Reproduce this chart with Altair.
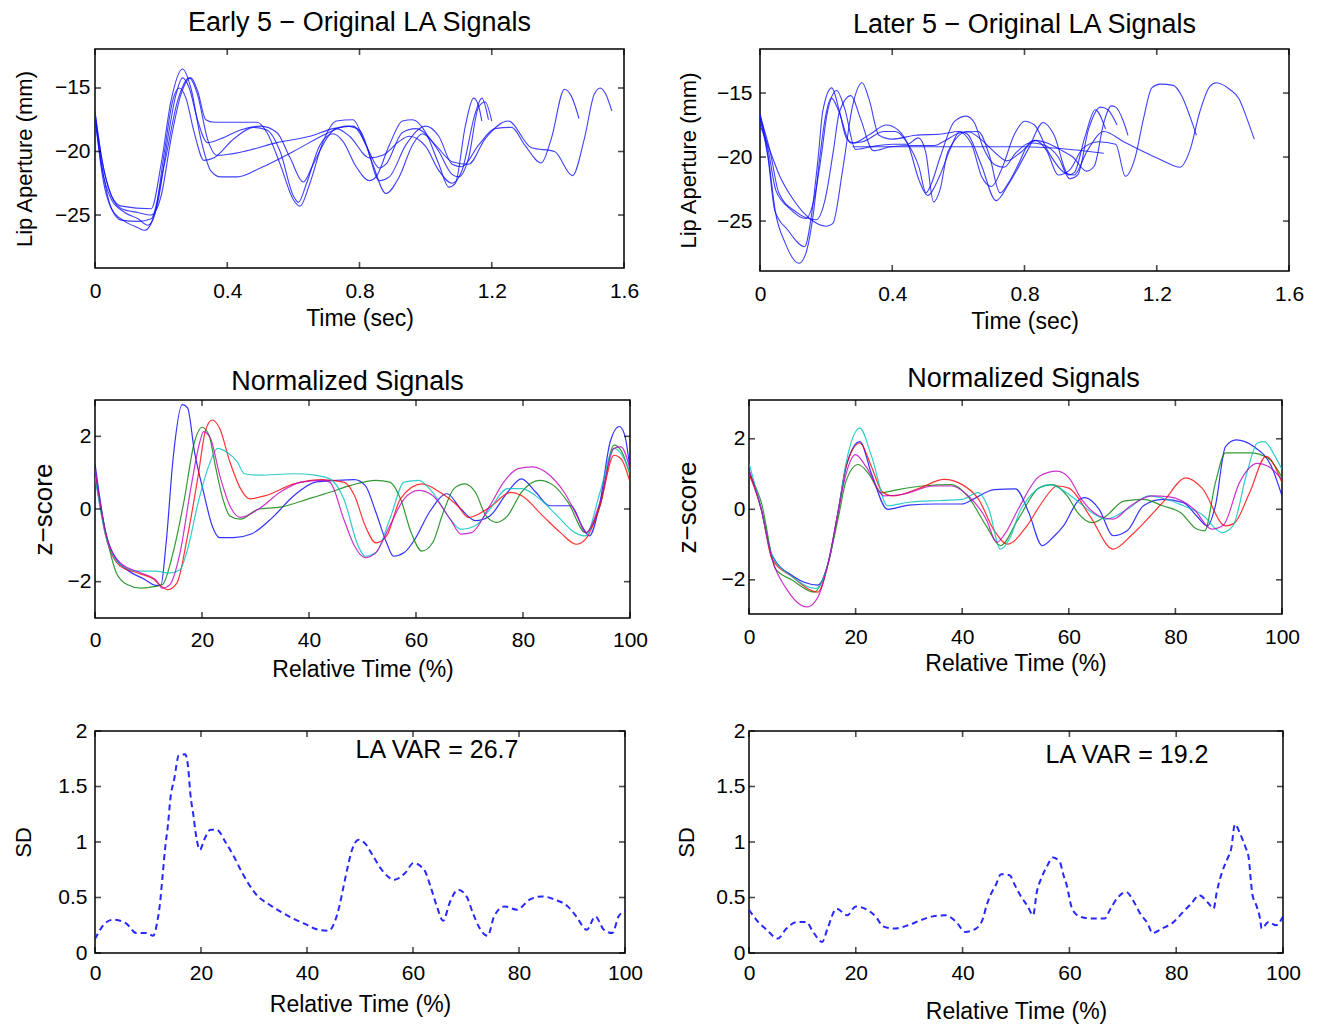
import altair as alt
import pandas as pd

FONT = "Liberation Sans"

# ---------------- Early 5 - original LA signals (time s, lip aperture mm) ----------------
e1_t = [0, 0.02, 0.05, 0.08, 0.17, 0.20, 0.23, 0.265, 0.29, 0.32, 0.35, 0.38, 0.43, 0.50, 0.60, 0.70, 0.76, 0.80, 0.84, 0.88, 0.92, 0.96, 0.99, 1.03, 1.08, 1.13, 1.18, 1.25, 1.32, 1.39, 1.444, 1.48, 1.51, 1.528, 1.545, 1.563]
e1_y = [-17.0, -20.5, -23.5, -24.3, -24.5, -21.0, -16.0, -13.5, -15.0, -19.0, -21.5, -22.0, -22.0, -21.3, -20.0, -18.6, -18.0, -18.3, -21.0, -23.3, -22.0, -19.5, -18.6, -19.5, -20.8, -21.0, -19.0, -17.6, -19.7, -20.0, -21.9, -19.0, -15.5, -15.0, -15.5, -16.8]
e2_t = [0, 0.02, 0.05, 0.08, 0.13, 0.17, 0.21, 0.25, 0.285, 0.31, 0.34, 0.37, 0.45, 0.55, 0.65, 0.72, 0.78, 0.82, 0.86, 0.89, 0.94, 1.00, 1.04, 1.08, 1.11, 1.16, 1.21, 1.26, 1.30, 1.35, 1.38, 1.42, 1.44, 1.464]
e2_y = [-17.2, -21.0, -24.5, -25.4, -25.5, -25.3, -21.0, -16.0, -14.2, -15.5, -19.0, -20.3, -20.0, -19.3, -18.8, -18.2, -18.0, -19.5, -22.3, -22.0, -19.5, -18.0, -18.8, -21.0, -21.2, -19.5, -18.2, -18.1, -19.5, -20.9, -19.0, -15.1, -15.6, -17.4]
e3_t = [0, 0.02, 0.05, 0.09, 0.13, 0.16, 0.19, 0.22, 0.245, 0.265, 0.285, 0.31, 0.34, 0.38, 0.44, 0.50, 0.55, 0.59, 0.63, 0.66, 0.70, 0.73, 0.77, 0.83, 0.87, 0.92, 0.95, 1.00, 1.04, 1.08, 1.11, 1.15, 1.17, 1.19]
e3_y = [-17.4, -21.2, -23.8, -24.8, -25.3, -25.8, -24.0, -19.0, -15.5, -14.2, -15.0, -17.5, -19.3, -19.0, -18.3, -18.0, -18.5, -20.5, -22.4, -21.0, -19.0, -18.2, -18.8, -20.5, -20.3, -19.2, -18.8, -19.6, -21.5, -22.5, -21.5, -17.0, -15.8, -17.5]
e4_t = [0, 0.02, 0.05, 0.09, 0.13, 0.15, 0.18, 0.21, 0.235, 0.255, 0.275, 0.30, 0.33, 0.36, 0.42, 0.48, 0.52, 0.56, 0.60, 0.615, 0.64, 0.68, 0.72, 0.75, 0.79, 0.83, 0.85, 0.89, 0.93, 0.96, 1.00, 1.04, 1.07, 1.09, 1.12, 1.145, 1.16, 1.17]
e4_y = [-17.0, -21.5, -24.5, -25.5, -26.0, -26.2, -25.0, -20.0, -16.0, -15.0, -15.8, -18.5, -20.7, -20.5, -19.0, -18.1, -18.3, -20.0, -23.5, -24.0, -22.5, -19.5, -18.6, -19.2, -21.2, -22.3, -22.0, -19.5, -17.6, -17.5, -18.5, -21.0, -22.8, -22.5, -18.0, -15.8, -16.4, -17.6]
e5_t = [0, 0.02, 0.05, 0.08, 0.13, 0.17, 0.20, 0.23, 0.26, 0.29, 0.31, 0.335, 0.36, 0.49, 0.52, 0.56, 0.60, 0.62, 0.65, 0.69, 0.73, 0.78, 0.82, 0.86, 0.88, 0.93, 0.97, 1.00, 1.04, 1.08, 1.10, 1.13, 1.16, 1.18, 1.20]
e5_y = [-16.8, -20.5, -23.5, -24.5, -24.8, -25.0, -23.5, -19.0, -15.5, -14.2, -15.2, -17.5, -17.7, -17.7, -18.5, -21.0, -23.8, -24.3, -22.5, -19.2, -17.6, -17.5, -19.5, -21.3, -21.0, -18.5, -18.2, -18.6, -20.0, -21.8, -22.0, -20.5, -16.5, -16.1, -17.6]

# ---------------- Later 5 - original LA signals ----------------
l1_t = [0, 0.03, 0.06, 0.10, 0.15, 0.20, 0.22, 0.25, 0.28, 0.309, 0.33, 0.36, 0.40, 0.47, 0.55, 0.60, 0.64, 0.67, 0.70, 0.73, 0.77, 0.80, 0.83, 0.87, 0.92, 0.95, 0.99, 1.04, 1.10, 1.17, 1.22, 1.27, 1.30, 1.33, 1.36, 1.38, 1.42, 1.45, 1.47, 1.495]
l1_y = [-17.5, -19.5, -21.5, -23.3, -24.8, -25.4, -25.2, -21.0, -16.0, -14.2, -15.5, -18.3, -18.6, -18.3, -18.2, -18.0, -19.0, -21.5, -22.3, -21.0, -18.2, -17.2, -17.5, -19.5, -21.2, -21.4, -19.5, -18.0, -18.8, -19.7, -20.3, -20.8, -19.5, -16.5, -14.5, -14.2, -14.7, -15.5, -16.8, -18.6]
l2_t = [0, 0.03, 0.057, 0.11, 0.17, 0.197, 0.222, 0.24, 0.275, 0.304, 0.343, 0.396, 0.462, 0.528, 0.554, 0.607, 0.66, 0.693, 0.726, 0.752, 0.779, 0.818, 0.832, 0.867, 0.902, 0.937, 0.977, 1.024, 1.076, 1.105, 1.135, 1.16, 1.185, 1.21, 1.25, 1.275, 1.30, 1.32]
l2_y = [-16.8, -19.5, -22.8, -24.3, -24.9, -23.3, -19.5, -16.5, -15.2, -17.0, -19.5, -19.2, -19.1, -19.1, -18.8, -18.1, -18.0, -19.8, -22.8, -22.0, -20.7, -18.8, -18.7, -19.5, -21.4, -21.0, -19.3, -18.8, -19.0, -21.5, -20.0, -17.0, -14.6, -14.3, -14.4, -15.2, -16.8, -18.3]
l3_t = [0, 0.024, 0.045, 0.084, 0.135, 0.156, 0.176, 0.19, 0.217, 0.24, 0.261, 0.282, 0.334, 0.382, 0.418, 0.449, 0.481, 0.507, 0.543, 0.575, 0.604, 0.627, 0.669, 0.714, 0.752, 0.811, 0.857, 0.888, 0.934, 0.951, 0.982, 1.014, 1.045]
l3_y = [-17.0, -20.0, -24.2, -25.7, -27.0, -24.5, -20.0, -16.4, -14.6, -16.4, -18.5, -18.9, -18.2, -17.5, -17.9, -19.1, -21.8, -23.0, -21.5, -19.4, -18.0, -18.2, -20.6, -23.4, -22.1, -19.4, -17.3, -18.2, -21.4, -21.2, -18.5, -16.3, -17.8]
l4_t = [0, 0.025, 0.046, 0.076, 0.118, 0.139, 0.161, 0.181, 0.197, 0.216, 0.238, 0.274, 0.31, 0.375, 0.41, 0.443, 0.481, 0.502, 0.518, 0.545, 0.589, 0.624, 0.648, 0.674, 0.71, 0.738, 0.773, 0.816, 0.852, 0.902, 0.937, 0.961, 0.994, 1.03, 1.052, 1.08]
l4_y = [-16.7, -20.0, -24.2, -26.7, -28.3, -27.5, -24.5, -20.0, -17.0, -15.4, -16.4, -18.9, -18.8, -18.0, -18.0, -18.8, -20.8, -22.8, -22.1, -20.0, -17.2, -16.8, -17.3, -19.2, -20.6, -20.8, -19.7, -18.9, -19.0, -20.0, -21.7, -21.4, -17.8, -16.1, -16.3, -17.5]
l5_t = [0, 0.026, 0.048, 0.089, 0.139, 0.166, 0.187, 0.203, 0.232, 0.256, 0.289, 0.334, 0.401, 0.445, 0.479, 0.501, 0.525, 0.545, 0.568, 0.628, 0.672, 0.717, 0.746, 0.79, 0.835, 0.868, 0.907, 0.946, 0.988, 1.011, 1.04, 1.062, 1.076, 1.099, 1.113]
l5_y = [-16.6, -19.6, -22.6, -24.0, -24.8, -23.0, -19.6, -16.6, -14.8, -16.2, -19.4, -19.2, -19.0, -19.0, -18.5, -19.6, -23.5, -22.5, -19.6, -18.0, -18.7, -19.8, -20.3, -19.6, -18.7, -18.9, -19.4, -20.0, -21.1, -20.7, -17.3, -16.0, -16.1, -17.2, -18.3]
l6_t = [0.28, 0.80, 1.04]
l6_y = [-19.2, -19.2, -19.7]

# ---------------- Normalized signals, early (relative time %, z-score) ----------------
ne_b_x = [0, 2, 4, 6, 9.3, 11.3, 12.3, 13.3, 14.6, 16.3, 17.3, 18.6, 20.3, 21.9, 23.3, 25.9, 29.2, 33.2, 37.2, 41.2, 45.2, 48.5, 50.5, 52.5, 54.5, 55.8, 57.8, 59.8, 62.5, 65.8, 68.4, 71.1, 73.8, 77.1, 79.7, 82.4, 85, 89, 91, 92.4, 94.4, 96.3, 98, 99, 100]
ne_b_y = [1.25, -0.65, -1.39, -1.67, -1.94, -2.1, -2.1, -0.93, 1.39, 2.87, 2.78, 1.57, 0.46, -0.46, -0.79, -0.79, -0.69, -0.23, 0.37, 0.74, 0.79, 0.81, 0.65, -0.09, -0.93, -1.3, -1.2, -0.83, -0.09, 0.42, 0.0, -0.32, -0.19, 0.46, 0.83, 0.46, 0.09, 0.09, -0.46, -0.74, 0.19, 1.85, 2.27, 2.04, 1.1]
ne_g_x = [0, 2, 4, 6, 8.6, 11.3, 12.6, 14.6, 16.6, 18.6, 20, 21.3, 22.6, 23.9, 25.2, 27.2, 30.6, 34.6, 39.9, 43.9, 47.8, 52.5, 55.1, 57.1, 59.1, 61.1, 63.1, 65.1, 67.1, 69.1, 71.1, 73.1, 75.1, 77.1, 79.7, 83.1, 85.7, 88.4, 91.7, 94.4, 97, 98.3, 100]
ne_g_y = [0.93, -0.65, -1.76, -2.08, -2.18, -2.13, -2.08, -1.2, 0.19, 1.85, 2.25, 2.04, 1.11, 0.28, -0.19, -0.28, 0.0, 0.05, 0.28, 0.46, 0.65, 0.79, 0.74, 0.28, -0.65, -1.16, -0.93, -0.09, 0.56, 0.69, 0.46, -0.19, -0.37, -0.19, 0.46, 0.79, 0.65, 0.19, -0.65, 0.09, 1.76, 1.62, 0.93]
ne_r_x = [0, 2, 4.7, 8, 10.6, 13.6, 15.3, 17.3, 19.3, 20.6, 21.9, 23.3, 25.2, 27.2, 28.9, 31.9, 37.2, 42.5, 46.5, 48.5, 50.5, 52.5, 54.5, 57.1, 61.1, 64.5, 67.8, 69.8, 73.8, 77.7, 79.7, 83.7, 87, 90, 91.7, 94.4, 97, 98.3, 100]
ne_r_y = [1.0, -0.74, -1.57, -1.76, -1.9, -2.22, -2.04, -0.74, 0.93, 2.13, 2.45, 2.22, 1.3, 0.56, 0.28, 0.37, 0.69, 0.81, 0.74, 0.37, -0.46, -0.93, -0.74, 0.28, 0.69, 0.46, 0.09, -0.23, 0.05, 0.46, 0.37, -0.19, -0.65, -0.97, -0.83, 0.09, 1.48, 1.39, 0.74]
ne_c_x = [0, 2, 4.7, 8, 11.3, 14, 15.9, 17.3, 19.3, 21.3, 22.9, 24.6, 26.6, 27.9, 30.6, 37.2, 41.2, 43.9, 46.5, 49.2, 50.5, 52.5, 55.1, 57.8, 60.5, 63.1, 66.4, 68.4, 71.1, 73.8, 77.1, 79.7, 83.1, 86.4, 89.7, 91.7, 94.4, 97, 98.3, 100]
ne_c_y = [0.88, -0.74, -1.53, -1.71, -1.71, -1.76, -1.67, -1.11, 0.19, 1.2, 1.67, 1.57, 1.3, 0.97, 0.93, 0.97, 0.93, 0.83, 0.28, -1.02, -1.3, -1.2, -0.28, 0.74, 0.79, 0.46, -0.28, -0.56, -0.46, 0.0, 0.56, 0.56, 0.28, -0.19, -0.65, -0.74, 0.46, 1.67, 1.53, 1.02]
ne_m_x = [0, 2, 4.7, 8.6, 11.3, 12.6, 14, 15.9, 17.9, 19.6, 20.3, 21.6, 23.3, 25.2, 27.2, 30.6, 34.6, 38.5, 42.5, 43.9, 46.5, 48.5, 50.5, 52.5, 55.1, 57.8, 60.5, 63.1, 66.4, 68.4, 70.4, 73.8, 76.4, 79.1, 81.7, 85, 87.7, 90.4, 91.7, 94.4, 97, 98.3, 100]
ne_m_y = [1.1, -0.65, -1.48, -1.76, -1.94, -2.18, -2.08, -1.2, 0.56, 1.85, 2.13, 1.94, 0.93, 0.09, -0.23, 0.0, 0.46, 0.74, 0.79, 0.74, -0.28, -1.02, -1.34, -1.2, -0.46, 0.28, 0.51, 0.37, -0.28, -0.69, -0.65, 0.09, 0.74, 1.11, 1.16, 0.93, 0.46, -0.28, -0.65, 0.19, 1.67, 1.71, 1.1]

# ---------------- Normalized signals, later ----------------
nl_b_x = [0, 2.3, 4.3, 8.3, 12.9, 14.9, 16.8, 18.2, 20.8, 23, 26, 30, 35, 40, 42, 46, 50, 52.5, 55, 57, 59, 62, 63, 65.7, 68.3, 71, 74, 77.6, 81.5, 84, 86, 87.5, 89.4, 91.4, 94.7, 98, 100]
nl_b_y = [1.1, 0, -1.3, -1.9, -2.15, -1.5, 0, 1.2, 1.92, 1.0, 0, 0.12, 0.15, 0.15, 0.28, 0.56, 0.58, -0.1, -1.03, -0.8, -0.47, 0.28, 0.33, 0, -0.75, -0.6, 0.1, 0.28, 0.19, -0.19, -0.47, 0.1, 1.78, 1.97, 1.78, 1.22, 0.38]
nl_g_x = [0, 2.3, 5, 8, 12.2, 14.9, 16.8, 18.2, 20.5, 22.5, 24.8, 28, 32.7, 38, 41, 44.5, 47.2, 50.5, 54.5, 57, 59.7, 61.7, 64.4, 67, 70.3, 74, 77.6, 81, 84, 85.5, 87.5, 89.4, 94, 97.4, 100]
nl_g_y = [1.0, 0.2, -1.7, -2.0, -2.35, -1.5, -0.2, 0.8, 1.27, 1.0, 0.47, 0.56, 0.66, 0.7, 0.38, -0.47, -1.03, -0.28, 0.61, 0.7, 0.38, -0.1, -0.38, -0.19, 0.23, 0.28, 0.1, -0.1, -0.56, -0.61, 0.75, 1.6, 1.6, 1.45, 0.9]
nl_r_x = [0, 2.3, 4.3, 8, 12.9, 14.9, 16.8, 18.2, 20.8, 23, 25, 27, 32, 36.6, 40, 43, 46, 48.5, 52, 55, 57.8, 60, 64, 68.3, 72, 77.6, 82, 85, 89.4, 91, 94, 97, 100]
nl_r_y = [1.0, 0, -1.4, -1.9, -2.35, -1.5, 0, 1.2, 1.88, 1.2, 0.5, 0.38, 0.6, 0.85, 0.7, 0.3, -0.6, -0.99, -0.5, 0.2, 0.66, 0.6, -0.2, -1.13, -0.7, 0.19, 0.89, 0.6, -0.47, -0.4, 0.5, 1.5, 0.75]
nl_c_x = [0, 2.3, 4.3, 8, 12.5, 14.9, 16.8, 18.2, 20.8, 23, 26, 30, 36, 40, 43, 45, 47.2, 49, 51, 56.4, 60.4, 64.4, 67, 71, 75, 78, 81.5, 85, 88.8, 90.8, 93.4, 95.4, 96.7, 98.7, 100]
nl_c_y = [1.3, 0, -1.3, -1.9, -2.25, -1.5, 0, 1.3, 2.3, 1.5, 0.1, 0.2, 0.25, 0.28, 0.47, 0, -1.13, -0.8, 0, 0.7, 0.38, -0.1, -0.28, 0, 0.38, 0.3, 0.1, -0.15, -0.66, -0.47, 1.03, 1.88, 1.92, 1.5, 1.13]
nl_m_x = [0, 2.3, 4.3, 7, 10.9, 12.9, 14.9, 16.8, 18.2, 20, 22, 25.4, 28.7, 34.7, 38, 41, 44.5, 46.5, 48, 50.5, 54.5, 57.8, 60, 62.4, 65.7, 68.3, 71.6, 75.6, 78.9, 83.5, 86.8, 89, 92, 95.4, 97.4, 100]
nl_m_y = [1.1, 0, -1.4, -2.25, -2.77, -2.5, -1.5, 0, 1.0, 1.55, 1.2, 0.38, 0.42, 0.66, 0.66, 0.4, -0.28, -0.94, -0.7, 0, 0.94, 1.08, 0.9, 0.28, -0.19, -0.28, 0.1, 0.38, 0.35, 0, -0.56, -0.45, 0.75, 1.3, 1.22, 0.85]

# ---------------- SD across trials ----------------
sde_x = [0, 1.4, 3.4, 5.8, 7.8, 9.8, 11, 11.7, 12.2, 12.8, 13.2, 13.8, 14.2, 15, 15.8, 17, 17.6, 18, 18.6, 19, 19.8, 20.6, 21.8, 23, 24.6, 26.2, 27.8, 30.2, 33.4, 36.6, 39.7, 42.1, 44.1, 45.3, 46.1, 46.9, 47.7, 48.5, 49.7, 50.9, 52.5, 54.1, 56.5, 58.5, 60.1, 62.1, 63.3, 64.5, 65.7, 66.9, 68.5, 70.1, 71.3, 72.5, 74.1, 75.3, 77.3, 79.6, 82, 84.4, 86.8, 89.2, 90.8, 92.8, 94.4, 96, 97.6, 98.8, 100]
sde_y = [0.125, 0.24, 0.30, 0.27, 0.18, 0.18, 0.155, 0.27, 0.42, 0.72, 0.93, 1.17, 1.38, 1.58, 1.78, 1.79, 1.66, 1.43, 1.23, 1.08, 0.93, 1.02, 1.11, 1.11, 1.0, 0.87, 0.72, 0.54, 0.42, 0.33, 0.26, 0.21, 0.20, 0.29, 0.42, 0.6, 0.78, 0.93, 1.02, 0.99, 0.87, 0.75, 0.66, 0.72, 0.81, 0.75, 0.6, 0.42, 0.29, 0.45, 0.57, 0.51, 0.36, 0.23, 0.155, 0.33, 0.42, 0.39, 0.48, 0.51, 0.48, 0.42, 0.33, 0.21, 0.33, 0.21, 0.18, 0.33, 0.38]
sdl_x = [0, 1.7, 3.3, 5.4, 7, 9, 10.7, 12, 13.7, 14.7, 16.4, 18.4, 20, 22.1, 23.7, 25.1, 27.1, 29.8, 32.4, 34.4, 36.8, 38.8, 40.5, 42.5, 43.8, 44.5, 45.2, 46.2, 47.2, 48.8, 49.8, 50.8, 52.2, 53.2, 53.9, 54.8, 55.9, 56.9, 58.2, 58.9, 59.5, 60.5, 61.9, 63.9, 66.6, 67.6, 68.9, 70.6, 72.2, 73.2, 74.6, 75.6, 77.3, 79.3, 81.3, 82.9, 84.3, 86, 87, 87.6, 88.6, 89.6, 90.3, 91, 92, 93, 93.6, 94, 94.3, 95, 95.7, 96, 97.3, 98.7, 100]
sdl_y = [0.39, 0.28, 0.21, 0.13, 0.22, 0.28, 0.28, 0.19, 0.10, 0.22, 0.40, 0.34, 0.42, 0.39, 0.33, 0.24, 0.22, 0.25, 0.30, 0.33, 0.34, 0.28, 0.19, 0.22, 0.31, 0.43, 0.52, 0.61, 0.71, 0.70, 0.61, 0.52, 0.42, 0.34, 0.55, 0.68, 0.79, 0.86, 0.82, 0.70, 0.61, 0.40, 0.33, 0.31, 0.31, 0.39, 0.49, 0.55, 0.45, 0.36, 0.27, 0.18, 0.22, 0.27, 0.37, 0.45, 0.52, 0.45, 0.40, 0.55, 0.73, 0.85, 0.94, 1.16, 1.07, 0.95, 0.85, 0.64, 0.52, 0.43, 0.31, 0.22, 0.28, 0.25, 0.33]

# tick values
t_ticks = [0, 0.4, 0.8, 1.2, 1.6]
la_ticks = [-25, -20, -15]
pct_ticks = [0, 20, 40, 60, 80, 100]
z_ticks = [-2, 0, 2]
sd_ticks = [0, 0.5, 1, 1.5, 2]

MATLAB = {"b": "#0000ff", "g": "#008000", "r": "#ff0000", "c": "#00bfbf", "m": "#bf00bf"}


def frame(series):
    rows = []
    for name, xs, ys in series:
        for a, b in zip(xs, ys):
            rows.append({"s": name, "x": a, "y": b})
    return pd.DataFrame(rows)


def panel(df, xdom, ydom, W, H, xt, yt, xtitle, ytitle, ytitle_x, ytitle_size, hid_x,
          xlab_pad, xtitle_pad, ylab_pad, mark_kw, colored, title=None, title_offset=0,
          title_dx=0, note=None, note_x=0, note_y=0):
    xs = alt.Scale(domain=xdom, nice=False, zero=False)
    ys = alt.Scale(domain=ydom, nice=False, zero=False)
    xaxis = alt.Axis(values=xt, format="~f", title=xtitle, domain=False, ticks=False, grid=False,
                     labelFlush=False, labelOverlap=False, labelPadding=xlab_pad,
                     titlePadding=xtitle_pad, labelFontSize=21, titleFontSize=23,
                     labelColor="black", titleColor="black", titleFontWeight="normal",
                     labelFont=FONT, titleFont=FONT)
    yaxis = alt.Axis(values=yt, format="~f", title=ytitle, domain=False, ticks=False, grid=False,
                     labelOverlap=False, labelPadding=ylab_pad, labelFontSize=21,
                     titleFontSize=ytitle_size, titleX=ytitle_x, titleAngle=270,
                     titleBaseline="middle", titleAlign="center",
                     labelColor="black", titleColor="black", titleFontWeight="normal",
                     labelFont=FONT, titleFont=FONT)

    def X():
        return alt.X("x:Q", scale=xs, axis=xaxis)

    def Y():
        return alt.Y("y:Q", scale=ys, axis=yaxis)

    if colored:
        col = alt.Color("s:N", scale=alt.Scale(domain=list(MATLAB.keys()),
                                               range=list(MATLAB.values())), legend=None)
    else:
        col = alt.value("#1010ff")
    lines = alt.Chart(df).mark_line(interpolate="monotone", clip=True, **mark_kw).encode(
        x=X(), y=Y(), detail="s:N", color=col)

    xtdf = pd.DataFrame({"x": xt})
    ytdf = pd.DataFrame({"y": yt})
    tk = dict(size=6, thickness=1.6, color="black")
    xb = alt.Chart(xtdf).mark_tick(orient="vertical", **tk).encode(x=X(), y=alt.value(H - 3))
    xtp = alt.Chart(xtdf).mark_tick(orient="vertical", **tk).encode(x=X(), y=alt.value(3))
    yl = alt.Chart(ytdf).mark_tick(orient="horizontal", **tk).encode(y=Y(), x=alt.value(3))
    yr = alt.Chart(ytdf).mark_tick(orient="horizontal", **tk).encode(y=Y(), x=alt.value(W - 3))
    hid = alt.Chart(pd.DataFrame({"h": [0]})).mark_text(
        text=".", color="white", align="left", fontSize=8).encode(
        x=alt.value(hid_x), y=alt.value(H / 2))
    layers = [lines, xb, xtp, yl, yr, hid]
    if note is not None:
        layers.append(alt.Chart(pd.DataFrame({"t": [note]})).mark_text(
            font=FONT, fontSize=25, color="black", align="center", baseline="middle").encode(
            text="t:N", x=alt.value(note_x), y=alt.value(note_y)))
    ch = alt.layer(*layers).properties(width=W, height=H)
    if title is not None:
        ch = ch.properties(title=alt.TitleParams(
            text=title, font=FONT, fontSize=27, fontWeight="normal", color="black",
            offset=title_offset, anchor="middle", frame="group", dx=title_dx))
    return ch


thin = dict(strokeWidth=1.1, opacity=0.8)
norm = dict(strokeWidth=1.2, opacity=0.8)
dash = dict(strokeWidth=2, strokeDash=[6, 4], opacity=0.9)

early_df = frame([("1", e1_t, e1_y), ("2", e2_t, e2_y), ("3", e3_t, e3_y),
                  ("4", e4_t, e4_y), ("5", e5_t, e5_y)])
later_df = frame([("1", l1_t, l1_y), ("2", l2_t, l2_y), ("3", l3_t, l3_y),
                  ("4", l4_t, l4_y), ("5", l5_t, l5_y), ("6", l6_t, l6_y)])
ne_df = frame([("b", ne_b_x, ne_b_y), ("g", ne_g_x, ne_g_y), ("r", ne_r_x, ne_r_y),
               ("c", ne_c_x, ne_c_y), ("m", ne_m_x, ne_m_y)])
nl_df = frame([("b", nl_b_x, nl_b_y), ("g", nl_g_x, nl_g_y), ("r", nl_r_x, nl_r_y),
               ("c", nl_c_x, nl_c_y), ("m", nl_m_x, nl_m_y)])
sde_df = frame([("sd", sde_x, sde_y)])
sdl_df = frame([("sd", sdl_x, sdl_y)])

TL = panel(early_df, [0, 1.6], [-29.17, -11.93], 529, 219, t_ticks, la_ticks, "Time (sec)",
           "Lip Aperture (mm)", -71, 22, -86, 12, 6, 5, thin, False,
           title="Early 5 \u2212 Original LA Signals", title_offset=12)
TR = panel(later_df, [0, 1.6], [-28.9, -11.56], 529, 222, t_ticks, la_ticks, "Time (sec)",
           "Lip Aperture (mm)", -72, 22, -84, 12, 6, 8, thin, False,
           title="Later 5 \u2212 Original LA Signals", title_offset=10)
ML = panel(ne_df, [0, 100], [-3, 3], 535, 218, pct_ticks, z_ticks, "Relative Time (%)",
           "z\u2212score", -52, 26, -86, 11, 8, 4, norm, True,
           title="Normalized Signals", title_offset=4, title_dx=-15)
MR = panel(nl_df, [0, 100], [-2.97, 3.1], 533, 214, pct_ticks, z_ticks, "Relative Time (%)",
           "z\u2212score", -62, 26, -76, 12, 5, 4, norm, True,
           title="Normalized Signals", title_offset=7, title_dx=8)
BL = panel(sde_df, [0, 100], [0, 2], 530, 222, pct_ticks, sd_ticks, "Relative Time (%)",
           "SD", -72, 22, -86, 9, 10, 8, dash, False,
           note="LA VAR = 26.7", note_x=342, note_y=19)
BR = panel(sdl_df, [0, 100], [0, 2], 534, 222, pct_ticks, sd_ticks, "Relative Time (%)",
           "SD", -63, 22, -75, 9, 17, 4, dash, False,
           note="LA VAR = 19.2", note_x=378, note_y=24)

row1 = alt.hconcat(TL, TR, spacing=35)
row2 = alt.hconcat(ML, MR, spacing=23)
row3 = alt.hconcat(BL, BR, spacing=29)

chart = alt.vconcat(row1, alt.vconcat(row2, row3, spacing=37), spacing=30).properties(
    padding=0, background="white"
).configure_view(stroke="black", strokeWidth=1.5)

chart.save("out.html", embed_options={"renderer": "svg", "actions": False})
